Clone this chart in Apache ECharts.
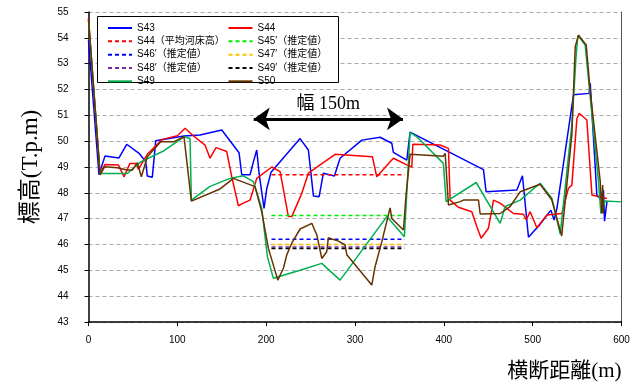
<!DOCTYPE html>
<html><head><meta charset="utf-8">
<script src="https://cdn.jsdelivr.net/npm/echarts@6/dist/echarts.min.js"></script>
<style>html,body{margin:0;padding:0;background:#fff}#c{width:639px;height:388px}</style>
</head><body><div id="c"></div>
<script>
// ---- data ----
const xTicks = [0, 100, 200, 300, 400, 500, 600];
const yTicks = [43, 44, 45, 46, 47, 48, 49, 50, 51, 52, 53, 54, 55];
const seriesNames = ['S43', 'S44', 'S44（平均河床高）', 'S45′（推定値）', 'S46′（推定値）', 'S47′（推定値）', 'S48′（推定値）', 'S49′（推定値）', 'S49', 'S50'];

const s43 = [[0,53.9],[11.8,48.7],[18.6,49.43],[34.3,49.35],[43,49.88],[56.9,49.53],[64.4,49.2],[66.2,48.65],[71.8,48.6],[75.7,50.02],[107.5,50.2],[125.6,50.24],[150,50.43],[169.5,49.55],[172.5,48.7],[181.9,48.7],[185.6,49.2],[189.4,49.66],[192,48.76],[197.6,47.4],[200.7,48.17],[205.5,48.8],[238.2,50.1],[247.5,49.66],[253.2,47.88],[259.6,47.85],[264.4,48.76],[276.8,48.65],[283.2,49.34],[307.7,50.04],[328.3,50.15],[341.4,49.92],[343.2,49.57],[358.3,49.27],[362,50.35],[444.6,48.9],[447.6,48.04],[482.2,48.11],[488.5,48.66],[495.3,46.28],[501,46.5],[507.7,46.75],[520.5,47.33],[524.2,46.95],[527.3,47.4],[546,51.8],[563.6,51.85],[564.8,52.24],[572.3,47.9],[576,47.78],[579.7,48.1],[580.9,46.9],[583.6,47.65]];

const s44 = [[0,54.75],[13,48.75],[18.6,49.1],[33.6,49.08],[40,48.62],[46.7,49.14],[53.2,49.14],[56.1,48.91],[66.2,49.49],[83.1,50.07],[100,50.21],[108.7,50.5],[116.9,50.24],[131.2,49.85],[136.8,49.34],[143.6,49.75],[155.6,49.6],[161.3,48.62],[168.7,47.5],[174.3,47.6],[181.9,47.72],[189.4,48.56],[206.3,49.0],[215.7,48.82],[225,47.08],[228.8,47.08],[240.1,47.98],[247.5,48.76],[277.6,49.49],[319.6,49.4],[324.5,48.62],[343.2,49.34],[358.3,49.08],[364,49.0],[365.1,49.88],[395.8,49.85],[405.2,49.72],[407.1,47.72],[416.4,47.44],[431.5,47.27],[437.2,46.69],[442,46.24],[450.2,46.63],[455.9,47.72],[463.4,47.6],[478.4,47.2],[489.6,47.17],[492.7,46.95],[497.2,47.27],[504.7,46.65],[516,47.14],[532.9,47.2],[540.3,48.18],[544.1,48.3],[549.8,50.88],[552.4,51.08],[561,50.82],[566.7,47.92],[583.6,47.78]];

const s44avg = [[206,48.7],[356,48.7]];
const s45est = [[206,47.12],[356,47.12]];
const s46est = [[206,46.2],[356,46.2]];
const s47est = [[206,46.0],[356,46.0]];
const s48est = [[206,45.9],[356,45.9]];
const s49est = [[206,45.85],[356,45.85]];

const s49 = [[0,54.7],[13,48.75],[43.7,48.75],[58.8,49.2],[85,49.63],[107.5,50.17],[114.3,50.1],[115.8,47.72],[136.8,48.25],[159.3,48.56],[174.3,48.66],[185.6,48.43],[195,47.4],[201.4,45.53],[208.1,44.69],[238.2,45.0],[262.6,45.27],[283.2,44.62],[335.8,47.08],[355.6,46.3],[362,50.34],[369.6,50.17],[399.5,49.14],[402.6,47.66],[436.4,48.4],[463.4,46.82],[469,47.47],[486,47.72],[508.4,48.37],[521.6,47.79],[531,46.4],[544.1,50.63],[549,53.34],[550.9,54.1],[559.1,53.72],[574.1,48.43],[576.8,47.2],[581.6,47.68],[600,47.65]];

const s50 = [[0,54.7],[13,48.69],[18.2,49.01],[32.4,48.97],[43.7,48.88],[49.3,48.88],[55,49.17],[59.5,48.62],[66.2,49.4],[81.3,49.98],[96.3,49.98],[107.5,50.17],[115.8,47.68],[148.1,48.15],[163.1,48.56],[187.5,48.24],[195,47.27],[202.5,45.85],[213.1,44.62],[219.4,45.08],[223.2,45.6],[228.8,46.05],[238.2,46.6],[251.4,46.82],[257,46.37],[262.6,45.46],[268.2,45.72],[270,46.26],[281.3,46.13],[288.9,45.98],[290.8,45.6],[318.9,44.43],[322.6,45.14],[330.2,46.11],[339.5,47.42],[341.4,47.01],[354.5,46.56],[357.5,47.92],[362,49.49],[399.5,49.42],[401.5,49.53],[405.2,47.53],[418.4,47.66],[422.1,47.72],[439,47.72],[440.9,47.18],[463.4,47.2],[474.6,47.47],[485.9,48.04],[508.4,48.33],[521.6,47.72],[532.7,46.33],[544.1,50.24],[547.9,53.66],[551.6,54.1],[560.3,53.72],[564.8,51.92],[576,48.46],[577.9,47.2],[578.8,48.3],[579.7,47.2]];

const widthArrow = [[186, 50.86], [354, 50.86]];
const widthLabel = '幅 150m';

// ---- chart ----
const chart = echarts.init(document.getElementById('c'), null, {renderer: 'canvas'});
const serif = "'Liberation Serif','Noto Sans CJK JP',serif";
const sans = "'Liberation Sans','Noto Sans CJK JP',sans-serif";

function ln(name, data, color, dashed, z) {
  return {
    name: name, type: 'line', data: data, symbol: 'none', showSymbol: false, z: z || 2,
    lineStyle: {color: color, width: 1.5, type: dashed ? [4, 3] : 'solid'},
    itemStyle: {color: color}, animation: false
  };
}

const series = [
  ln(seriesNames[0], s43, '#0000ff'),
  ln(seriesNames[1], s44, '#ff0000'),
  ln(seriesNames[2], s44avg, '#ff0000', true),
  ln(seriesNames[3], s45est, '#00ee00', true),
  ln(seriesNames[4], s46est, '#0000ff', true),
  ln(seriesNames[5], s47est, '#ffc000', true),
  ln(seriesNames[6], s48est, '#7030a0', true),
  ln(seriesNames[7], s49est, '#000000', true),
  ln(seriesNames[8], s49, '#00b050'),
  ln(seriesNames[9], s50, '#663300')
];
series[0].markLine = {
  silent: true, symbol: ['arrow', 'arrow'], symbolSize: [17, 16],
  lineStyle: {color: '#000', width: 3, type: 'solid'},
  label: {show: true, formatter: widthLabel, position: 'insideMiddleTop', distance: 6,
          color: '#000', fontSize: 18, fontFamily: serif},
  data: [[{coord: widthArrow[0]}, {coord: widthArrow[1]}]]
};

const legendCommon = {
  orient: 'vertical', itemWidth: 24, itemHeight: 10, itemGap: 3.33,
  textStyle: {fontSize: 10, fontFamily: sans, color: '#000', lineHeight: 10},
  itemStyle: {color: 'rgba(0,0,0,0)', borderWidth: 0, opacity: 0}
};

chart.setOption({
  animation: false,
  backgroundColor: '#fff',
  grid: {left: 88.5, right: 17.5, top: 12, bottom: 66},
  xAxis: {
    type: 'value', min: xTicks[0], max: xTicks[xTicks.length - 1], interval: 100,
    axisLine: {lineStyle: {color: '#000', width: 1.5}},
    axisTick: {show: true, length: 4, lineStyle: {color: '#000'}},
    axisLabel: {fontSize: 10, color: '#000', fontFamily: sans, margin: 13},
    splitLine: {show: false},
    name: '横断距離(m)', nameLocation: 'end', nameGap: 0,
    nameTextStyle: {fontSize: 21, fontFamily: serif, color: '#000', align: 'right', verticalAlign: 'top', padding: [39, 0, 0, 0]}
  },
  yAxis: [{
    type: 'value', min: yTicks[0], max: yTicks[yTicks.length - 1], interval: 1,
    axisLine: {show: true, lineStyle: {color: '#000', width: 1.5}},
    axisTick: {show: true, length: 4, lineStyle: {color: '#000'}},
    axisLabel: {fontSize: 10, color: '#000', fontFamily: sans, margin: 20},
    splitLine: {show: true, lineStyle: {color: '#aaa', type: [4, 3], width: 1}},
    name: '標高(T.p.m)', nameLocation: 'middle', nameGap: 46, nameRotate: 90,
    nameTextStyle: {fontSize: 23, fontFamily: serif, color: '#000'}
  }, {
    type: 'value', min: yTicks[0], max: yTicks[yTicks.length - 1], interval: 1, position: 'right',
    axisLine: {show: true, lineStyle: {color: '#555', width: 1}},
    axisTick: {show: false}, axisLabel: {show: false}, splitLine: {show: false}
  }],
  graphic: [{
    type: 'rect', left: 97, top: 16, z: 3,
    shape: {width: 241, height: 66},
    style: {fill: '#fff', stroke: '#000', lineWidth: 1}
  }],
  legend: [
    Object.assign({}, legendCommon, {left: 102, top: 18, data: [seriesNames[0], seriesNames[2], seriesNames[4], seriesNames[6], seriesNames[8]]}),
    Object.assign({}, legendCommon, {left: 222.5, top: 18, data: [seriesNames[1], seriesNames[3], seriesNames[5], seriesNames[7], seriesNames[9]]})
  ],
  series: series
});
</script></body></html>
